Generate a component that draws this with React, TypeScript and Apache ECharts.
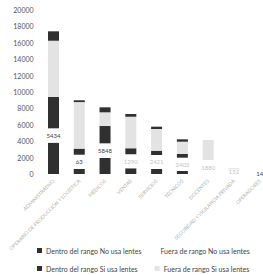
import React, { useEffect, useRef } from "react";
import * as echarts from "echarts";

const categories = [
  "ADMINISTRATIVO",
  "OPERARIO DE PRODUCCIÓN Y LOGÍSTICA",
  "MÉDICOS",
  "VENTAS",
  "SERVICIOS",
  "TÉCNICOS",
  "DOCENTES",
  "SEGURIDAD Y VIGILANCIA PRIVADA",
  "OPERADORES",
];
const dentroNoUsa = [3820, 610, 1950, 700, 610, 370, 0, 0, 0];
const fueraNoUsa = [1750, 1740, 1790, 1700, 1710, 1620, 1700, 560, 170];
const dentroSiUsa = [3830, 740, 2110, 730, 520, 450, 0, 0, 0];
const fueraSiUsa = [6850, 5680, 1670, 3860, 2650, 1500, 2450, 150, 0];
const topSegment = [1150, 220, 610, 330, 280, 290, 0, 0, 0];
const valueLabels = ["5434", "63", "5848", "1290", "2421", "2403", "1880", "152", "14"];
const labelDark = [true, true, true, false, false, false, false, false, true];
const yTicks = { min: 0, max: 20000, interval: 2000 };

const DARK = "#303030";
const LIGHT = "#e3e3e3";

export default function App() {
  const ref = useRef<HTMLDivElement>(null);
  useEffect(() => {
    if (!ref.current) return;
    const chart = echarts.init(ref.current, undefined, { renderer: "svg" });
    const barW = 11;
    const base = {
      type: "bar",
      stack: "total",
      barWidth: barW,
      emphasis: { disabled: true },
    };
    const legendCommon = {
      left: 37,
      width: 250,
      itemWidth: 5,
      itemHeight: 5,
      icon: "rect",
      padding: 0,
      textStyle: { fontSize: 7, color: "#444", fontFamily: "Lato", padding: [0, 0, 0, -1] },
    };
    chart.setOption({
      animation: false,
      backgroundColor: "#ffffff",
      grid: {
        left: 40.6,
        top: 10,
        height: 164,
        width: 232,
        outerBoundsMode: "none",
      },
      legend: [
        {
          ...legendCommon,
          data: ["Dentro del rango No usa lentes", "Fuera de rango No usa lentes"],
          top: 247,
          itemGap: 10,
        },
        {
          ...legendCommon,
          data: ["Dentro del rango Si usa lentes", "Fuera de rango Si usa lentes"],
          top: 265,
          itemGap: 17,
        },
      ],
      xAxis: {
        type: "category",
        data: categories,
        axisLine: { show: false },
        axisTick: { show: false },
        axisLabel: {
          rotate: 45,
          fontSize: 5,
          color: "#b5b5b5",
          interval: 0,
          margin: 6,
          fontFamily: "Lato",
        },
      },
      yAxis: {
        type: "value",
        min: yTicks.min,
        max: yTicks.max,
        interval: yTicks.interval,
        splitLine: { show: false },
        axisLine: { show: false },
        axisTick: { show: false },
        axisLabel: {
          fontSize: 7,
          color: "#555",
          margin: 7,
          fontFamily: "Lato",
          formatter: (v: number) => String(v),
        },
      },
      series: [
        { ...base, name: "Dentro del rango No usa lentes", data: dentroNoUsa, itemStyle: { color: DARK } },
        {
          ...base,
          name: "Fuera de rango No usa lentes",
          itemStyle: { color: "#ffffff" },
          data: fueraNoUsa.map((v, i) => ({
            value: v,
            label: {
              show: true,
              position: "inside",
              formatter: valueLabels[i],
              fontSize: 6,
              fontFamily: "Lato",
              color: labelDark[i] ? "#444" : "#c4c4c4",
            },
          })),
        },
        { ...base, name: "Dentro del rango Si usa lentes", data: dentroSiUsa, itemStyle: { color: DARK } },
        { ...base, name: "Fuera de rango Si usa lentes", data: fueraSiUsa, itemStyle: { color: LIGHT } },
        { ...base, name: "Total", data: topSegment, itemStyle: { color: DARK } },
      ],
    });
    return () => chart.dispose();
  }, []);
  return (
    <div
      ref={ref}
      style={{ position: "fixed", left: 0, top: 0, width: 263, height: 275 }}
    />
  );
}
